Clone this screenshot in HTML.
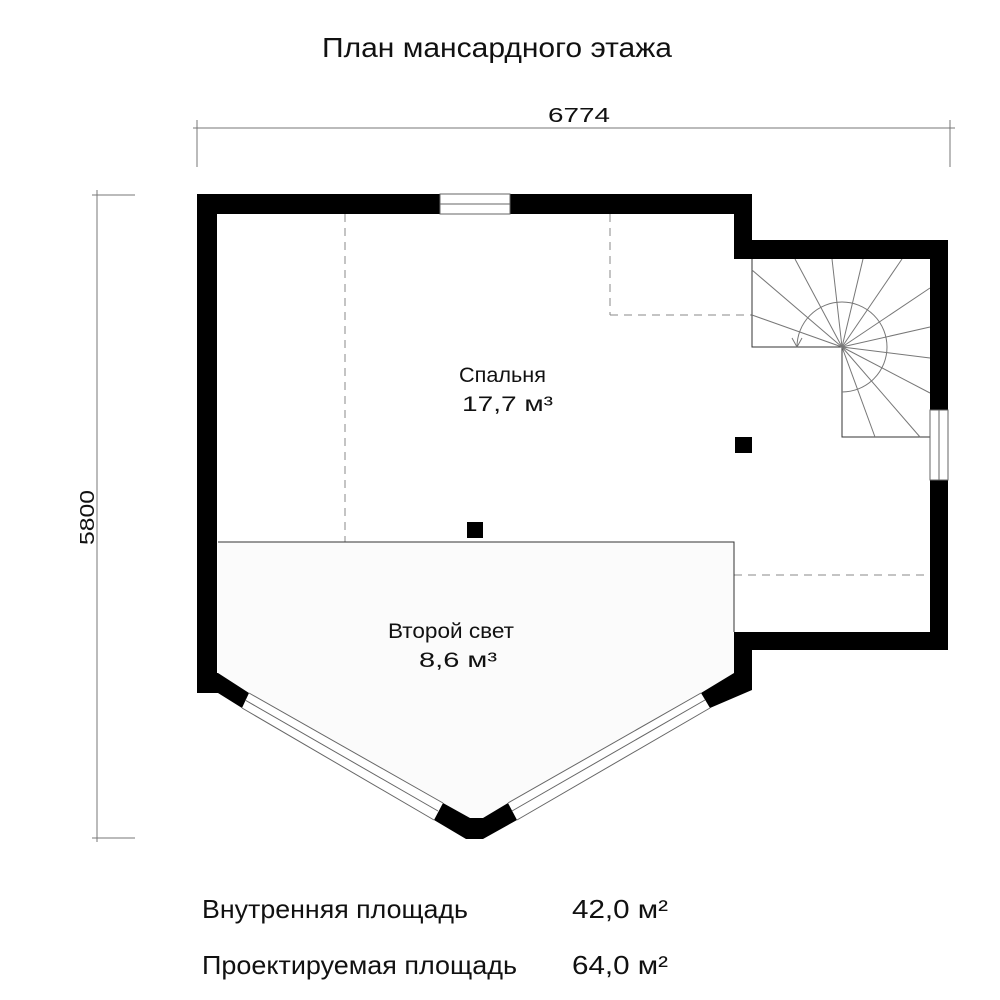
<!DOCTYPE html>
<html><head><meta charset="utf-8"><style>
html,body{margin:0;padding:0;background:#fff;}
svg{display:block;}
text{font-family:"Liberation Sans","DejaVu Sans",sans-serif;fill:#111;}
</style></head><body>
<svg width="1000" height="1000" viewBox="0 0 1000 1000" xmlns="http://www.w3.org/2000/svg">
<rect width="1000" height="1000" fill="#fff"/>
<text x="322" y="57" font-size="28" textLength="350" lengthAdjust="spacingAndGlyphs">План мансардного этажа</text>
<!-- dimensions -->
<g stroke="#777" stroke-width="1" fill="none">
<line x1="193" y1="128" x2="955" y2="128"/>
<line x1="197" y1="120" x2="197" y2="167"/>
<line x1="950" y1="120" x2="950" y2="167"/>
<line x1="97" y1="190" x2="97" y2="842"/>
<line x1="92" y1="195" x2="135" y2="195"/>
<line x1="92" y1="838" x2="135" y2="838"/>
</g>
<text x="548" y="122" font-size="20" textLength="62" lengthAdjust="spacingAndGlyphs">6774</text>
<text transform="translate(94,545) rotate(-90)" font-size="20" textLength="55" lengthAdjust="spacingAndGlyphs">5800</text>
<!-- second light texture -->
<polygon points="218,542 734,542 734,673 701,693 508,803 483,818 470,818 443,803 249,693 218,673" fill="#fbfbfb"/>
<!-- thin lines -->
<g stroke="#888" stroke-width="1" fill="none">
<line x1="345" y1="214" x2="345" y2="542" stroke-dasharray="8,6"/>
<line x1="610" y1="214" x2="610" y2="315" stroke-dasharray="8,6"/>
<line x1="610" y1="315" x2="752" y2="315" stroke-dasharray="8,6"/>
<line x1="734" y1="575" x2="930" y2="575" stroke-dasharray="8,6"/>
</g>
<g stroke="#333" stroke-width="1" fill="none">
<polyline points="218,542 734,542 734,632"/>
<polyline points="752,259 752,347 842,347 842,437 930,437"/>
</g>
<!-- stairs -->
<g stroke="#777" stroke-width="1" fill="none">
<line x1="842" y1="347" x2="795" y2="259"/>
<line x1="842" y1="347" x2="832" y2="259"/>
<line x1="842" y1="347" x2="863" y2="259"/>
<line x1="842" y1="347" x2="902" y2="259"/>
<line x1="842" y1="347" x2="930" y2="288"/>
<line x1="842" y1="347" x2="930" y2="327"/>
<line x1="842" y1="347" x2="930" y2="358"/>
<line x1="842" y1="347" x2="930" y2="393"/>
<line x1="842" y1="347" x2="752" y2="270"/>
<line x1="842" y1="347" x2="752" y2="315"/>
<line x1="842" y1="347" x2="875" y2="437"/>
<line x1="842" y1="347" x2="920" y2="437"/>
<path d="M797,347 A45,45 0 1 1 842,392"/>
<polyline points="792,338 797,347 802,338"/>
</g>
<!-- walls -->
<g fill="#000">
<polygon points="197,194 752,194 752,240 948,240 948,650 752,650 752,632 930,632 930,259 734,259 734,214 217,214 217,693 197,693"/>
<polygon points="734,632 752,632 752,690 710,708 701,693 734,673"/>
<polygon points="197,673 218,673 249,693 242,708 218,693 197,693"/>
<polygon points="443,803 470,818 483,818 508,803 517,820 483,839 466,839 434,820"/>
<rect x="467" y="522" width="16" height="16"/>
<rect x="735" y="437" width="17" height="16"/>
</g>
<!-- windows -->
<rect x="440" y="194" width="70" height="20" fill="#fff" stroke="#666" stroke-width="1"/>
<line x1="440" y1="204" x2="510" y2="204" stroke="#666"/>
<rect x="930" y="410" width="18" height="70" fill="#fff" stroke="#666" stroke-width="1"/>
<line x1="939" y1="410" x2="939" y2="480" stroke="#666"/>
<g stroke="#666" stroke-width="1" fill="none">
<line x1="249" y1="693" x2="443" y2="803"/>
<line x1="245" y1="700" x2="438" y2="811"/>
<line x1="242" y1="708" x2="434" y2="820"/>
<line x1="508" y1="803" x2="701" y2="693"/>
<line x1="512" y1="811" x2="705" y2="700"/>
<line x1="517" y1="820" x2="710" y2="708"/>
</g>
<!-- labels -->
<text x="459" y="382" font-size="21" textLength="87" lengthAdjust="spacingAndGlyphs">Спальня</text>
<text x="462" y="411" font-size="21" textLength="91" lengthAdjust="spacingAndGlyphs">17,7 м³</text>
<text x="388" y="638" font-size="21" textLength="126" lengthAdjust="spacingAndGlyphs">Второй свет</text>
<text x="419" y="667" font-size="21" textLength="78" lengthAdjust="spacingAndGlyphs">8,6 м³</text>
<text x="202" y="918" font-size="26" textLength="266" lengthAdjust="spacingAndGlyphs">Внутренняя площадь</text>
<text x="572" y="918" font-size="26" textLength="96" lengthAdjust="spacingAndGlyphs">42,0 м²</text>
<text x="202" y="974" font-size="26" textLength="315" lengthAdjust="spacingAndGlyphs">Проектируемая площадь</text>
<text x="572" y="974" font-size="26" textLength="96" lengthAdjust="spacingAndGlyphs">64,0 м²</text>
</svg>
</body></html>
